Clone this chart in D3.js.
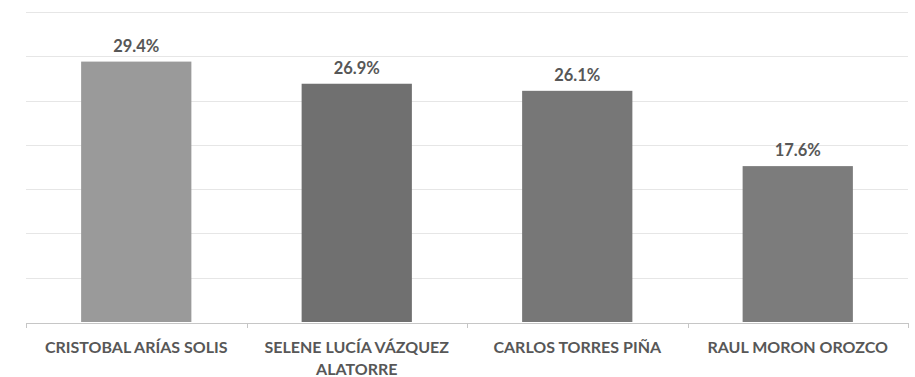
<!DOCTYPE html>
<html>
<head>
<meta charset="utf-8">
<script src="https://cdn.jsdelivr.net/npm/d3@7/dist/d3.min.js"></script>
<style>
  html, body { margin: 0; padding: 0; background: #ffffff; }
  svg { display: block; }
  text { font-family: Lato, "Open Sans", sans-serif; font-weight: 700; fill: #575757; }
</style>
</head>
<body>
<svg id="chart" width="915" height="377"></svg>
<script>
// Candidates and their vote share (%)
const candidates = [
  "CRISTOBAL ARÍAS SOLIS",
  "SELENE LUCÍA VÁZQUEZ ALATORRE",
  "CARLOS TORRES PIÑA",
  "RAUL MORON OROZCO"
];
const shares = [29.4, 26.9, 26.1, 17.6];
const barColors = ["#9a9a9a", "#707070", "#777777", "#7c7c7c"];
const gridTicks = [0, 5, 10, 15, 20, 25, 30, 35];

const svg = d3.select("#chart");
const plotLeft = 26, plotRight = 908, plotTop = 12, plotBottom = 322;

const x = d3.scaleBand()
  .domain(candidates)
  .range([plotLeft, plotRight])
  .paddingInner(0.5)
  .paddingOuter(0.25);

const y = d3.scaleLinear()
  .domain([0, 35])
  .range([plotBottom, plotTop]);

// Horizontal gridlines
svg.append("g")
  .selectAll("line")
  .data(gridTicks.slice(1))
  .join("line")
  .attr("x1", plotLeft)
  .attr("x2", plotRight)
  .attr("y1", d => Math.round(y(d)) + 0.5)
  .attr("y2", d => Math.round(y(d)) + 0.5)
  .attr("stroke", "#e6e6e6")
  .attr("stroke-width", 1);

// Bars
svg.append("g")
  .selectAll("rect")
  .data(candidates)
  .join("rect")
  .attr("x", d => x(d))
  .attr("y", (d, i) => y(shares[i]))
  .attr("width", x.bandwidth())
  .attr("height", (d, i) => y(0) - y(shares[i]))
  .attr("fill", (d, i) => barColors[i]);

// Value labels
svg.append("g")
  .selectAll("text")
  .data(candidates)
  .join("text")
  .attr("x", d => x(d) + x.bandwidth() / 2)
  .attr("y", (d, i) => y(shares[i]) - 10)
  .attr("text-anchor", "middle")
  .style("font-size", "16.5px")
  .text((d, i) => d3.format(".1f")(shares[i]) + "%");

// Category axis
const axis = svg.append("g")
  .attr("transform", `translate(0,${plotBottom + 1})`)
  .call(d3.axisBottom(x).tickSize(0).tickPadding(0));
axis.select(".domain")
  .attr("stroke", "#c6c6c6")
  .attr("d", `M${plotLeft},0.5H${plotRight}`);
axis.selectAll(".tick text").remove();

// Category separators on the axis
const step = x.step();
const boundaries = d3.range(candidates.length + 1).map(i => plotLeft + i * step);
axis.selectAll("line.sep")
  .data(boundaries)
  .join("line")
  .attr("class", "sep")
  .attr("x1", d => Math.round(d) + 0.5)
  .attr("x2", d => Math.round(d) + 0.5)
  .attr("y1", 0)
  .attr("y2", 5)
  .attr("stroke", "#c6c6c6");

// Category labels, wrapped to the category width
const labels = svg.append("g")
  .selectAll("text")
  .data(candidates)
  .join("text")
  .attr("text-anchor", "middle")
  .style("font-size", "16px")
  .attr("x", d => x(d) + x.bandwidth() / 2)
  .attr("y", 353);

labels.each(function(d) {
  const t = d3.select(this);
  const words = d.split(" ");
  const maxW = 205;
  let line = [];
  const lines = [];
  const probe = t.append("tspan");
  words.forEach(w => {
    const attempt = line.concat(w).join(" ");
    probe.text(attempt);
    if (probe.node().getComputedTextLength() > maxW && line.length) {
      lines.push(line.join(" "));
      line = [w];
    } else {
      line.push(w);
    }
  });
  lines.push(line.join(" "));
  probe.remove();
  lines.forEach((l, i) => {
    t.append("tspan")
      .attr("x", x(d) + x.bandwidth() / 2)
      .attr("dy", i === 0 ? 0 : 22)
      .text(l);
  });
});
</script>
</body>
</html>
